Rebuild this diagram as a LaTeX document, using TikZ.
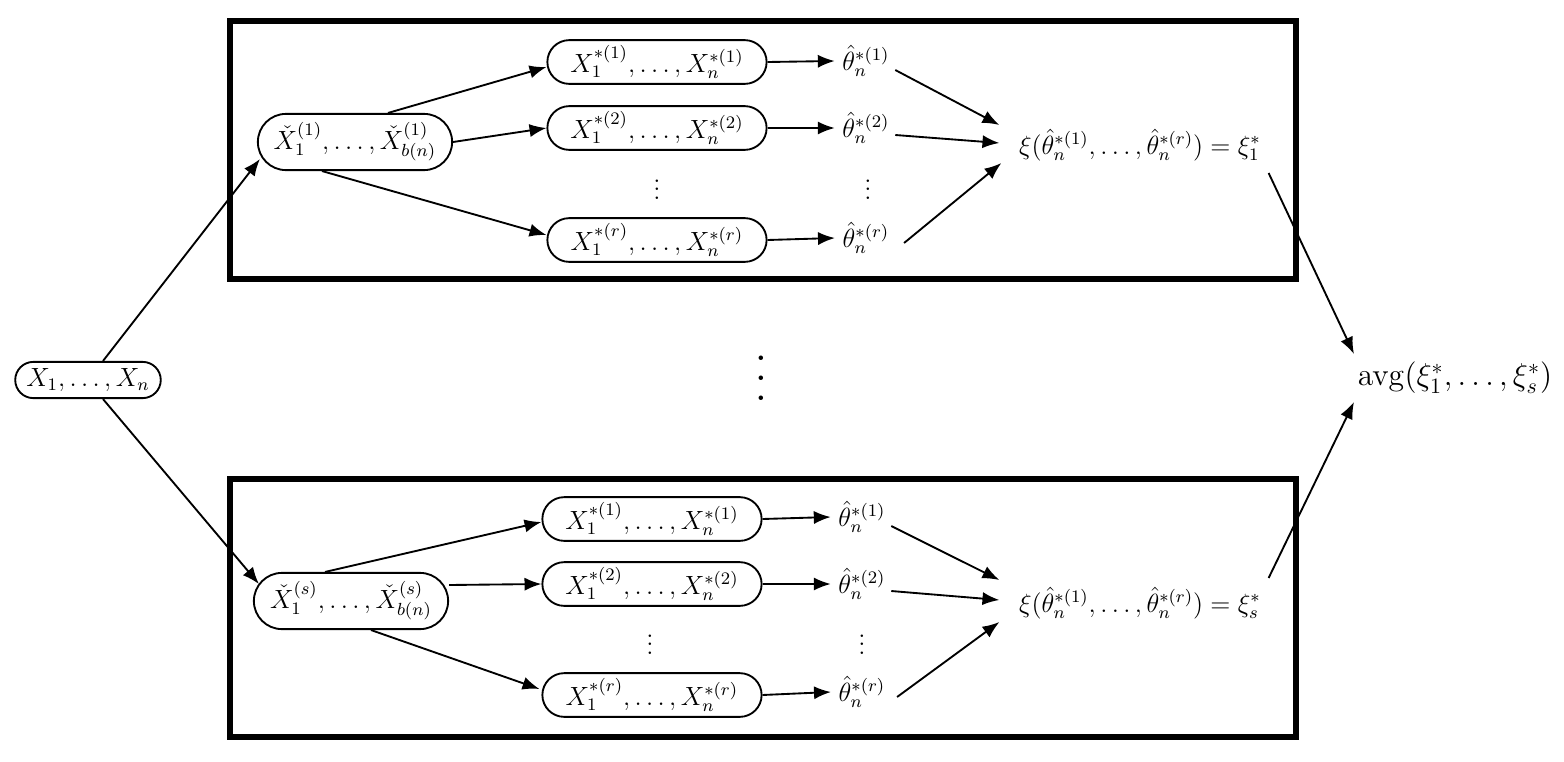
\documentclass[tikz,border=0pt]{standalone}
\usetikzlibrary{shapes.misc,arrows.meta}
\begin{document}
\begin{tikzpicture}[x=0.016cm,y=-0.016cm,
  every node/.style={font=\large},
  rr/.style={rounded rectangle, draw, line width=0.85pt, inner xsep=2pt, inner ysep=0pt},
  anode/.style={rr, minimum width=2.47cm, minimum height=0.58cm},
  cnode/.style={rr, minimum width=3.25cm, minimum height=0.90cm},
  bnode/.style={rr, minimum width=3.65cm, minimum height=0.70cm},
  arr/.style={-{Latex[length=7.7pt,width=6pt]}, line width=0.85pt},
  frame/.style={draw, line width=2.7pt}]
\useasboundingbox (0,0) rectangle (1564,762);

% frames
\draw[frame] (230,21) rectangle (1296,279);
\draw[frame] (230,479) rectangle (1296,737);

% input
\node[anode] (A) at (88,380) {$X_1,\ldots,X_n$};

% top group
\node[cnode] (C1) at (355,142) {$\check X_1^{(1)},\ldots,\check X_{b(n)}^{(1)}$};
\node[bnode] (B11) at (657,62) {$X_1^{*(1)},\ldots,X_n^{*(1)}$};
\node[bnode] (B12) at (657,128) {$X_1^{*(2)},\ldots,X_n^{*(2)}$};
\node (V11) at (657,183) {$\vdots$};
\node[bnode] (B1r) at (657,240) {$X_1^{*(r)},\ldots,X_n^{*(r)}$};
\node (T11) at (866,61) {$\hat\theta_n^{*(1)}$};
\node (T12) at (866,128) {$\hat\theta_n^{*(2)}$};
\node (V12) at (868,183) {$\vdots$};
\node (T1r) at (866,238) {$\hat\theta_n^{*(r)}$};
\node (XI1) at (1140,145) {$\xi(\hat\theta_n^{*(1)},\ldots,\hat\theta_n^{*(r)})=\xi_1^*$};

% bottom group
\node[cnode] (C2) at (351,601) {$\check X_1^{(s)},\ldots,\check X_{b(n)}^{(s)}$};
\node[bnode] (B21) at (652,519) {$X_1^{*(1)},\ldots,X_n^{*(1)}$};
\node[bnode] (B22) at (652,584) {$X_1^{*(2)},\ldots,X_n^{*(2)}$};
\node (V21) at (650,638) {$\vdots$};
\node[bnode] (B2r) at (652,695) {$X_1^{*(r)},\ldots,X_n^{*(r)}$};
\node (T21) at (862,517) {$\hat\theta_n^{*(1)}$};
\node (T22) at (862,584) {$\hat\theta_n^{*(2)}$};
\node (V22) at (862,638) {$\vdots$};
\node (T2r) at (862,692) {$\hat\theta_n^{*(r)}$};
\node (XI2) at (1140,603) {$\xi(\hat\theta_n^{*(1)},\ldots,\hat\theta_n^{*(r)})=\xi_s^*$};

% middle
\node[inner sep=0pt, font=\Huge] (BV) at (761,378) {\vbox{\baselineskip=9.1pt\lineskiplimit=-30pt\lineskip=0pt\hbox{.}\hbox{.}\hbox{.}}};
\node[font=\Large] (AVG) at (1455,378) {$\mathrm{avg}(\xi_1^*,\ldots,\xi_s^*)$};

% connectors
\draw[arr] ([shift={(15,0)}]A.north) -- ([shift={(3,17)}]C1.west);
\draw[arr] ([shift={(15,0)}]A.south) -- ([shift={(6,-17)}]C2.west);

\draw[arr] ([shift={(33,0)}]C1.north) -- ([shift={(0,5)}]B11.west);
\draw[arr] (C1.east) -- (B12.west);
\draw[arr] ([shift={(-33,0)}]C1.south) -- ([shift={(0,-5)}]B1r.west);
\draw[arr] (B11.east) -- (T11.west);
\draw[arr] (B12.east) -- (T12.west);
\draw[arr] (B1r.east) -- (T1r.west);
\draw[arr] ([shift={(-2,9)}]T11.east) -- ([shift={(-12,-20)}]XI1.west);
\draw[arr] ([shift={(-2,7)}]T12.east) -- ([shift={(-12,-2)}]XI1.west);
\draw[arr] ([shift={(7,5)}]T1r.east) -- ([shift={(-10,18)}]XI1.west);

\draw[arr] ([shift={(-26,0)}]C2.north) -- ([shift={(0,3)}]B21.west);
\draw[arr] ([shift={(0,-16)}]C2.east) -- (B22.west);
\draw[arr] ([shift={(20,0)}]C2.south) -- ([shift={(-2,-6)}]B2r.west);
\draw[arr] (B21.east) -- (T21.west);
\draw[arr] (B22.east) -- (T22.west);
\draw[arr] (B2r.east) -- (T2r.west);
\draw[arr] ([shift={(-2,9)}]T21.east) -- ([shift={(-12,-23)}]XI2.west);
\draw[arr] ([shift={(-2,7)}]T22.east) -- ([shift={(-12,-3)}]XI2.west);
\draw[arr] ([shift={(4,5)}]T2r.east) -- ([shift={(-12,19)}]XI2.west);

\draw[arr] ([shift={(0,28)}]XI1.east) -- ([shift={(4,-24)}]AVG.west);
\draw[arr] ([shift={(0,-25)}]XI2.east) -- ([shift={(4,24)}]AVG.west);
\end{tikzpicture}
\end{document}
